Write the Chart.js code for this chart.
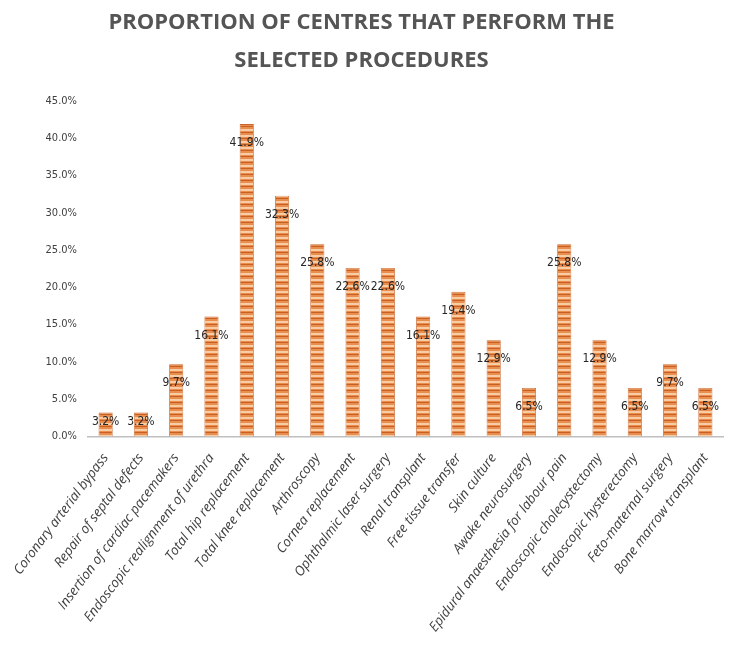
<!DOCTYPE html>
<html>
<head>
<meta charset="utf-8">
<script src="https://cdn.jsdelivr.net/npm/chart.js@4/dist/chart.umd.min.js"></script>
<style>
  html, body { margin: 0; padding: 0; background: #fff; }
  #wrap { width: 729px; height: 650px; position: relative; }
</style>
</head>
<body>
<div id="wrap"><canvas id="procChart"></canvas></div>
<script>
// procedures and share of centres performing them (%)
const procedures = [
    'Coronary arterial bypass',
    'Repair of septal defects',
    'Insertion of cardiac pacemakers',
    'Endoscopic realignment of urethra',
    'Total hip replacement',
    'Total knee replacement',
    'Arthroscopy',
    'Cornea replacement',
    'Ophthalmic laser surgery',
    'Renal transplant',
    'Free tissue transfer',
    'Skin culture',
    'Awake neurosurgery',
    'Epidural anaesthesia for labour pain',
    'Endoscopic cholecystectomy',
    'Endoscopic hysterectomy',
    'Feto-maternal surgery',
    'Bone marrow transplant'
];
const shares = [3.2, 3.2, 9.7, 16.1, 41.9, 32.3, 25.8, 22.6, 22.6, 16.1, 19.4, 12.9, 6.5, 25.8, 12.9, 6.5, 9.7, 6.5];
const yTicks = [0, 5, 10, 15, 20, 25, 30, 35, 40, 45];

const narrowFont = '"Liberation Sans Narrow", "DejaVu Sans Condensed", sans-serif';

// striped orange fill for the bars
function stripeFill() {
    const c = document.createElement('canvas');
    c.width = 4; c.height = 6;
    const g = c.getContext('2d');
    g.fillStyle = '#E88F50'; g.fillRect(0, 0, 4, 6);
    g.fillStyle = '#C95F22'; g.fillRect(0, 0, 4, 1);
    g.fillStyle = '#F8CCA4'; g.fillRect(0, 3, 4, 2);
    return g.createPattern(c, 'repeat');
}

// value labels just inside the top of each bar
const valueLabels = {
    id: 'valueLabels',
    afterDatasetsDraw(chart) {
        const ctx = chart.ctx;
        const meta = chart.getDatasetMeta(0);
        const base = chart.scales.y.getPixelForValue(0);
        ctx.save();
        ctx.font = '12px ' + narrowFont;
        ctx.fillStyle = '#262626';
        ctx.textAlign = 'center';
        ctx.textBaseline = 'middle';
        meta.data.forEach((bar, i) => {
            const y = Math.min(bar.y + 19, base - 15);
            ctx.fillText(shares[i].toFixed(1) + '%', bar.x, y);
        });
        ctx.restore();
    }
};

new Chart(document.getElementById('procChart'), {
    type: 'bar',
    data: {
        labels: procedures,
        datasets: [{
            data: shares,
            backgroundColor: stripeFill(),
            borderColor: '#C9652C',
            borderWidth: 0.8,
            barPercentage: 0.4,
            categoryPercentage: 1
        }]
    },
    options: {
        responsive: true,
        maintainAspectRatio: false,
        animation: false,
        layout: { padding: { left: 0, right: 6, top: 0, bottom: 9 } },
        plugins: {
            legend: { display: false },
            tooltip: { enabled: false },
            title: {
                display: true,
                text: ['PROPORTION OF CENTRES THAT PERFORM THE', 'SELECTED PROCEDURES'],
                color: '#555',
                font: { family: '"Open Sans", sans-serif', size: 22, weight: 'bold', lineHeight: 1.75 },
                padding: { top: 3, bottom: 21 }
            }
        },
        scales: {
            x: {
                grid: { display: false },
                border: { display: true, color: '#BFBFBF', width: 1.5 },
                ticks: {
                    color: '#404040',
                    minRotation: 53,
                    maxRotation: 53,
                    padding: 6,
                    font: { family: '"Open Sans", sans-serif', size: 13.5, style: 'italic' }
                }
            },
            y: {
                min: 0,
                max: 45,
                afterBuildTicks: axis => { axis.ticks = yTicks.map(v => ({ value: v })); },
                afterFit: scale => { scale.width = 88; },
                grid: { display: false },
                border: { display: false },
                ticks: {
                    color: '#404040',
                    padding: 3,
                    font: { family: narrowFont, size: 11 },
                    callback: v => v.toFixed(1) + '%'
                }
            }
        }
    },
    plugins: [valueLabels]
});
</script>
</body>
</html>
